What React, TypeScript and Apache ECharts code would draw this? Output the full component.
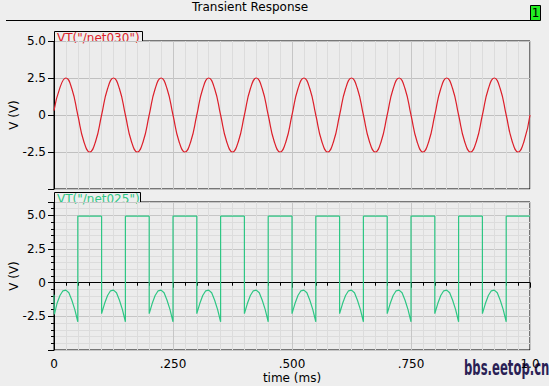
import React, { useEffect, useRef } from 'react';
import * as echarts from 'echarts';

// ---- texts ----
const titleText = 'Transient Response';
const panelBadge = '1';
const topTrace = 'VT("/net030")';
const bottomTrace = 'VT("/net025")';
const yAxisName = 'V (V)';
const xAxisName = 'time (ms)';
const watermark = 'bbs.eetop.cn';

// ---- tick labels ----
const xTickValues = [0, 0.25, 0.5, 0.75, 1];
const xTickTexts = ['0', '.250', '.500', '.750', '1.0'];
const yTickValues = [5, 2.5, 0, -2.5];
const yTickTexts = ['5.0', '2.5', '0', '-2.5'];

// ---- top trace: VT("/net030"), time (ms) and volts ----
const sineTime = [
  0, 0.0125, 0.025, 0.0375, 0.05, 0.0625, 0.075, 0.0875,
  0.1, 0.1125, 0.125, 0.1375, 0.15, 0.1625, 0.175, 0.1875,
  0.2, 0.2125, 0.225, 0.2375, 0.25, 0.2625, 0.275, 0.2875,
  0.3, 0.3125, 0.325, 0.3375, 0.35, 0.3625, 0.375, 0.3875,
  0.4, 0.4125, 0.425, 0.4375, 0.45, 0.4625, 0.475, 0.4875,
  0.5, 0.5125, 0.525, 0.5375, 0.55, 0.5625, 0.575, 0.5875,
  0.6, 0.6125, 0.625, 0.6375, 0.65, 0.6625, 0.675, 0.6875,
  0.7, 0.7125, 0.725, 0.7375, 0.75, 0.7625, 0.775, 0.7875,
  0.8, 0.8125, 0.825, 0.8375, 0.85, 0.8625, 0.875, 0.8875,
  0.9, 0.9125, 0.925, 0.9375, 0.95, 0.9625, 0.975, 0.9875,
  1.0,
];
const sineVolts = [
  0.3, 1.85, 2.5, 1.77, 0, -1.77, -2.5, -1.77,
  0, 1.77, 2.5, 1.77, 0, -1.77, -2.5, -1.77,
  0, 1.77, 2.5, 1.77, 0, -1.77, -2.5, -1.77,
  0, 1.77, 2.5, 1.77, 0, -1.77, -2.5, -1.77,
  0, 1.77, 2.5, 1.77, 0, -1.77, -2.5, -1.77,
  0, 1.77, 2.5, 1.77, 0, -1.77, -2.5, -1.77,
  0, 1.77, 2.5, 1.77, 0, -1.77, -2.5, -1.77,
  0, 1.77, 2.5, 1.77, 0, -1.77, -2.5, -1.77,
  0, 1.77, 2.5, 1.77, 0, -1.77, -2.5, -1.77,
  0, 1.77, 2.5, 1.77, 0, -1.77, -2.5, -1.77,
  0,
];

// ---- bottom trace: VT("/net025"), [time (ms), volts] ----
const pulsePoints: [number, number][] = [
  [0, -0.9], [0.0008, -2.35], [0.00625, -1.55], [0.0125, -0.95], [0.01875, -0.6], [0.025, -0.55], [0.03125, -0.75], [0.0375, -1.3], [0.04375, -2.0], [0.05, -2.9], [0.05, 4.95],
  [0.1, 4.95], [0.1, -2.3], [0.10625, -1.55], [0.1125, -0.95], [0.11875, -0.6], [0.125, -0.55], [0.13125, -0.75], [0.1375, -1.3], [0.14375, -2.0], [0.15, -2.9], [0.15, 4.95],
  [0.2, 4.95], [0.2, -2.3], [0.20625, -1.55], [0.2125, -0.95], [0.21875, -0.6], [0.225, -0.55], [0.23125, -0.75], [0.2375, -1.3], [0.24375, -2.0], [0.25, -2.9], [0.25, 4.95],
  [0.3, 4.95], [0.3, -2.3], [0.30625, -1.55], [0.3125, -0.95], [0.31875, -0.6], [0.325, -0.55], [0.33125, -0.75], [0.3375, -1.3], [0.34375, -2.0], [0.35, -2.9], [0.35, 4.95],
  [0.4, 4.95], [0.4, -2.3], [0.40625, -1.55], [0.4125, -0.95], [0.41875, -0.6], [0.425, -0.55], [0.43125, -0.75], [0.4375, -1.3], [0.44375, -2.0], [0.45, -2.9], [0.45, 4.95],
  [0.5, 4.95], [0.5, -2.3], [0.50625, -1.55], [0.5125, -0.95], [0.51875, -0.6], [0.525, -0.55], [0.53125, -0.75], [0.5375, -1.3], [0.54375, -2.0], [0.55, -2.9], [0.55, 4.95],
  [0.6, 4.95], [0.6, -2.3], [0.60625, -1.55], [0.6125, -0.95], [0.61875, -0.6], [0.625, -0.55], [0.63125, -0.75], [0.6375, -1.3], [0.64375, -2.0], [0.65, -2.9], [0.65, 4.95],
  [0.7, 4.95], [0.7, -2.3], [0.70625, -1.55], [0.7125, -0.95], [0.71875, -0.6], [0.725, -0.55], [0.73125, -0.75], [0.7375, -1.3], [0.74375, -2.0], [0.75, -2.9], [0.75, 4.95],
  [0.8, 4.95], [0.8, -2.3], [0.80625, -1.55], [0.8125, -0.95], [0.81875, -0.6], [0.825, -0.55], [0.83125, -0.75], [0.8375, -1.3], [0.84375, -2.0], [0.85, -2.9], [0.85, 4.95],
  [0.9, 4.95], [0.9, -2.3], [0.90625, -1.55], [0.9125, -0.95], [0.91875, -0.6], [0.925, -0.55], [0.93125, -0.75], [0.9375, -1.3], [0.94375, -2.0], [0.95, -2.9], [0.95, 4.95],
  [1.0, 4.95],
];

const FONT = 'DejaVu Sans';
const BG = '#eeeeee';
const RED = '#dc1f2a';
const GREEN = '#2ec684';

function xLabel(v: number): string {
  const i = xTickValues.findIndex((t) => Math.abs(t - v) < 1e-6);
  return i >= 0 ? xTickTexts[i] : '';
}
function yLabel(v: number): string {
  const i = yTickValues.findIndex((t) => Math.abs(t - v) < 1e-6);
  return i >= 0 ? yTickTexts[i] : '';
}

function buildOption(): any {
  const sineData = sineTime.map((t, i) => [t, sineVolts[i]]);
  const gridCommon = {
    left: 54,
    right: 19,
    height: 148,
    show: true,
    borderColor: '#000',
    borderWidth: 1,
    backgroundColor: '#ececec',
    containLabel: false,
    outerBoundsMode: 'none',
  };
  const yCommon = {
    type: 'value',
    interval: 2.5,
    name: yAxisName,
    nameLocation: 'middle',
    nameRotate: 90,
    nameGap: 34,
    nameMoveOverlap: false,
    nameTextStyle: { color: '#000', fontSize: 12, fontFamily: FONT },
    axisLine: { show: true, lineStyle: { color: '#000', width: 1 } },
    axisTick: { show: true, length: 6, lineStyle: { color: '#000' } },
    axisLabel: { formatter: yLabel, color: '#000', fontSize: 12, fontFamily: FONT, margin: 8 },
  };
  return {
    animation: false,
    backgroundColor: BG,
    textStyle: { fontFamily: FONT },
    grid: [
      { ...gridCommon, top: 41 },
      { ...gridCommon, top: 202 },
    ],
    xAxis: [
      {
        gridIndex: 0,
        type: 'value',
        min: 0,
        max: 1,
        interval: 0.25,
        axisLabel: { show: false },
        axisTick: { show: false },
        axisLine: { show: false },
        splitLine: { show: true, lineStyle: { color: '#c6c6c6', width: 1 } },
        minorTick: { show: false, splitNumber: 10 },
        minorSplitLine: { show: true, lineStyle: { color: '#dcdcdc', width: 1 } },
      },
      {
        gridIndex: 1,
        type: 'value',
        min: 0,
        max: 1,
        interval: 0.25,
        name: xAxisName,
        nameLocation: 'middle',
        nameGap: 22,
        nameMoveOverlap: false,
        nameTextStyle: { color: '#000', fontSize: 12, fontFamily: FONT },
        axisLine: { show: true, lineStyle: { color: '#000', width: 1 } },
        axisTick: { show: true, length: 5, lineStyle: { color: '#000' } },
        minorTick: { show: true, splitNumber: 10, length: 3, lineStyle: { color: '#000' } },
        axisLabel: { formatter: xLabel, color: '#000', fontSize: 12, fontFamily: FONT, margin: 8 },
        splitLine: { show: true, lineStyle: { color: '#c6c6c6', width: 1 } },
        minorSplitLine: { show: true, lineStyle: { color: '#dcdcdc', width: 1 } },
      },
    ],
    yAxis: [
      {
        ...yCommon,
        gridIndex: 0,
        min: -5,
        max: 5,
        splitLine: { show: true, lineStyle: { color: '#c0c0c0', width: 1 } },
      },
      {
        ...yCommon,
        gridIndex: 1,
        min: -5,
        max: 6,
        minorTick: { show: true, splitNumber: 5, length: 3, lineStyle: { color: '#000' } },
        splitLine: { show: true, lineStyle: { color: '#c6c6c6', width: 1 } },
        minorSplitLine: { show: true, lineStyle: { color: '#dcdcdc', width: 1 } },
      },
    ],
    series: [
      {
        type: 'line',
        xAxisIndex: 0,
        yAxisIndex: 0,
        data: sineData,
        showSymbol: false,
        smooth: true,
        lineStyle: { color: RED, width: 1.2 },
      },
      {
        type: 'line',
        xAxisIndex: 1,
        yAxisIndex: 1,
        data: pulsePoints,
        showSymbol: false,
        smooth: false,
        lineStyle: { color: GREEN, width: 1.2 },
      },
    ],
    graphic: [
      {
        type: 'text',
        left: 249 - 57,
        top: 1,
        style: { text: titleText, font: `12px "${FONT}"`, fill: '#000' },
      },
      {
        type: 'line',
        shape: { x1: 6, y1: 20.5, x2: 531, y2: 20.5 },
        style: { stroke: '#000', lineWidth: 1 },
      },
      {
        type: 'rect',
        shape: { x: 530.5, y: 5.5, width: 10, height: 15 },
        style: { fill: '#22ee22', stroke: '#000', lineWidth: 1 },
      },
      {
        type: 'text',
        x: 535.5,
        y: 13,
        style: { text: panelBadge, font: `12px "${FONT}"`, fill: '#000', align: 'center', verticalAlign: 'middle' },
      },
      {
        type: 'rect',
        shape: { x: 54.5, y: 31.5, width: 88, height: 10 },
        style: { fill: BG, stroke: '#000', lineWidth: 1 },
      },
      {
        type: 'text',
        x: 57,
        y: 37.5,
        style: { text: topTrace, font: `12px "${FONT}"`, fill: RED, verticalAlign: 'middle' },
      },
      {
        type: 'rect',
        shape: { x: 54.5, y: 192.5, width: 86, height: 10 },
        style: { fill: BG, stroke: '#000', lineWidth: 1 },
      },
      {
        type: 'text',
        x: 57,
        y: 198.5,
        style: { text: bottomTrace, font: `12px "${FONT}"`, fill: GREEN, verticalAlign: 'middle' },
      },
      {
        type: 'text',
        x: 464,
        y: 368,
        scaleX: 0.53,
        style: { text: watermark, font: `bold 22px "${FONT}"`, fill: '#2a1f55', verticalAlign: 'middle' },
      },
    ],
  };
}

export default function App() {
  const ref = useRef<HTMLDivElement>(null);
  useEffect(() => {
    if (!ref.current) return;
    const chart = echarts.init(ref.current, null, { renderer: 'svg' });
    chart.setOption(buildOption());
    return () => chart.dispose();
  }, []);
  return (
    <div
      ref={ref}
      style={{ position: 'fixed', left: 0, top: 0, width: 549, height: 386, background: BG }}
    />
  );
}
